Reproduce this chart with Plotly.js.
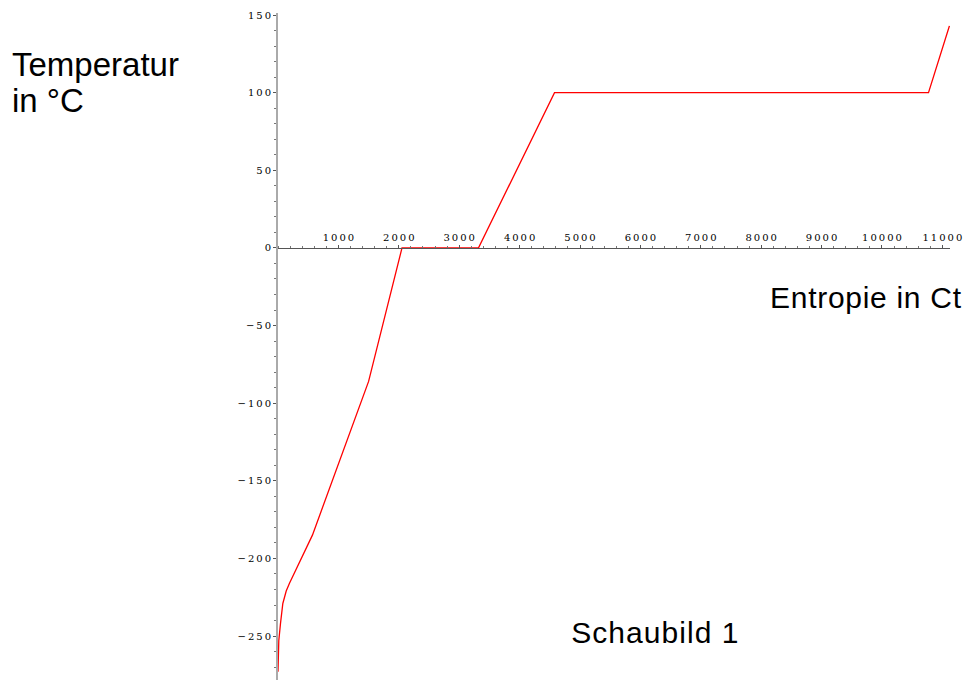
<!DOCTYPE html>
<html>
<head>
<meta charset="utf-8">
<script src="https://cdn.plot.ly/plotly-3.0.1.min.js"></script>
<style>html,body{margin:0;padding:0;background:#fff;}#chart{width:968px;height:680px;}</style>
</head>
<body>
<div id="chart"></div>
<script>
// Data (entropy in Ct vs temperature in °C)
const entropy = [0, 13, 41, 80, 136, 190, 570, 1500, 2053, 3320, 4578, 10770, 11116];
const temperature = [-273, -253, -242, -229, -221, -216, -185, -86, 0, 0, 100, 100, 143];

const xTickVals = [1000, 2000, 3000, 4000, 5000, 6000, 7000, 8000, 9000, 10000, 11000];
const xTickLabels = ["1000", "2000", "3000", "4000", "5000", "6000", "7000", "8000", "9000", "10000", "11000"];
const yTickVals = [-250, -200, -150, -100, -50, 0, 50, 100, 150];
const yTickLabels = ["−250", "−200", "−150", "−100", "−50", "0", "50", "100", "150"];

const spaced = s => s.split('').join('\u2009');

const yMin = -278.3, yMax = 151.3;
const xAxisPos = (0 - yMin) / (yMax - yMin);

const trace = {
  x: entropy, y: temperature, type: 'scatter', mode: 'lines',
  line: {color: '#ff0000', width: 1.3}, hoverinfo: 'skip', showlegend: false
};

const tickFont = {family: 'DejaVu Serif, Liberation Serif, serif', size: 10, color: '#000'};
const labelFont = s => ({family: 'Liberation Sans, Arial, sans-serif', size: s, color: '#000'});

const layout = {
  width: 968, height: 680,
  margin: {l: 278, r: 18, t: 13, b: 0},
  paper_bgcolor: '#fff', plot_bgcolor: '#fff',
  showlegend: false,
  xaxis: {
    range: [0, 11126], anchor: 'free', position: xAxisPos, side: 'top',
    showgrid: false, zeroline: false, showline: true, linecolor: '#555', linewidth: 1,
    tickvals: xTickVals, ticktext: xTickLabels.map(spaced),
    ticks: 'outside', ticklen: 3, tickcolor: '#555', tickwidth: 1,
    minor: {dtick: 200, tick0: 0, ticks: 'outside', ticklen: 2, tickcolor: '#777'},
    tickfont: tickFont, automargin: false, ticklabelstandoff: 0
  },
  yaxis: {
    range: [yMin, yMax],
    showgrid: false, zeroline: false, showline: true, linecolor: '#aaa', linewidth: 2,
    tickvals: yTickVals, ticktext: yTickLabels.map(spaced),
    ticks: 'outside', ticklen: 3, tickcolor: '#555', tickwidth: 1,
    minor: {dtick: 10, tick0: 0, ticks: 'outside', ticklen: 2, tickcolor: '#777'},
    tickfont: tickFont, automargin: false
  },
  annotations: [
    {text: 'Temperatur', xref: 'paper', yref: 'paper', x: -0.3988, y: 0.9235,
     xanchor: 'left', yanchor: 'middle', showarrow: false, font: labelFont(33)},
    {text: 'in °C', xref: 'paper', yref: 'paper', x: -0.3988, y: 0.8681,
     xanchor: 'left', yanchor: 'middle', showarrow: false, font: labelFont(33)},
    {text: 'Entropie in Ct', xref: 'paper', yref: 'paper', x: 0.7362, y: 0.5742,
     xanchor: 'left', yanchor: 'middle', showarrow: false, font: labelFont(30)},
    {text: 'Schaubild 1', xref: 'paper', yref: 'paper', x: 0.4419, y: 0.0705,
     xanchor: 'left', yanchor: 'middle', showarrow: false, font: labelFont(30)}
  ]
};

Plotly.newPlot('chart', [trace], layout, {staticPlot: true, displayModeBar: false}).then(() => {
  const spacing = {2: '0.7px', 3: '1.05px'};
  document.querySelectorAll('#chart .annotation').forEach(a => {
    const idx = a.getAttribute('data-index');
    if (spacing[idx]) {
      a.querySelectorAll('text').forEach(t => t.style.letterSpacing = spacing[idx]);
    }
  });
});
</script>
</body>
</html>
